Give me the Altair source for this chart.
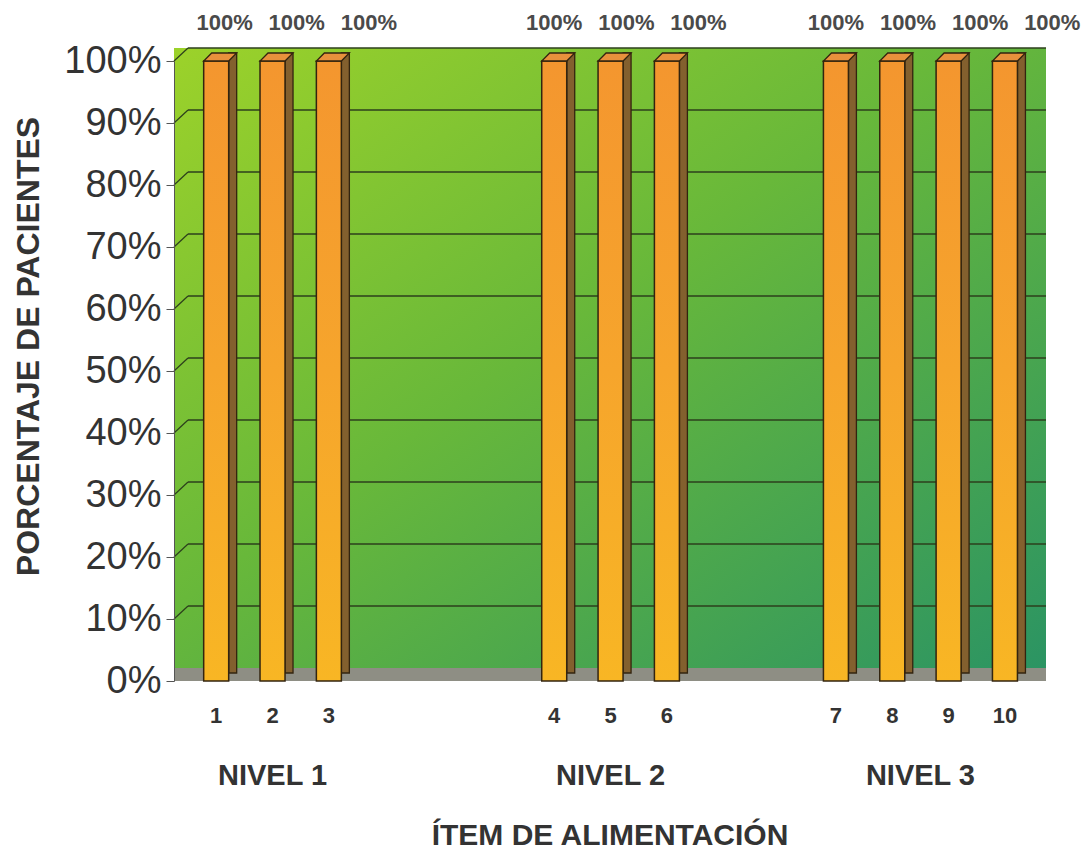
import altair as alt
import pandas as pd

# ---- data ----
items = [1, 2, 3, 4, 5, 6, 7, 8, 9, 10]
niveles = ["NIVEL 1", "NIVEL 1", "NIVEL 1",
           "NIVEL 2", "NIVEL 2", "NIVEL 2",
           "NIVEL 3", "NIVEL 3", "NIVEL 3", "NIVEL 3"]
porcentajes = [1.0, 1.0, 1.0, 1.0, 1.0, 1.0, 1.0, 1.0, 1.0, 1.0]
y_ticks = [0.0, 0.1, 0.2, 0.3, 0.4, 0.5, 0.6, 0.7, 0.8, 0.9, 1.0]
x_title = "ÍTEM DE ALIMENTACIÓN"
y_title = "PORCENTAJE DE PACIENTES"

df = pd.DataFrame({"item": items, "nivel": niveles, "pct": porcentajes})
grid_df = pd.DataFrame({"pct": y_ticks[1:]})

W, H = 872, 620
FONT = "Liberation Sans"
DEPTH = 13
OUTLINE = "#33240f"

xscale = alt.Scale(domain=[-0.66, 14.64], nice=False, zero=False)
yscale = alt.Scale(domain=[0, 1], nice=False)

ys = alt.Y(
    "pct:Q",
    scale=yscale,
    axis=alt.Axis(
        values=y_ticks, format=".0%", grid=False, zindex=1,
        labelFontSize=38, labelFont=FONT, labelColor="#333333", labelPadding=5,
        tickSize=8, tickColor="#555555", domainColor="#555555",
        title=y_title, titleFont=FONT, titleFontSize=32, titleFontWeight="bold",
        titleColor="#333333", titlePadding=18, titleY=H / 2 - 25,
    ),
)

base = (
    alt.Chart(df)
    .transform_calculate(ng="toNumber(substring(datum.nivel, 6))")
    .transform_calculate(slot="datum.item - 1 + (datum.ng == 2 ? 3 : (datum.ng == 3 ? 5 : 0))")
)
xs = alt.X("slot:Q", scale=xscale, axis=None)

one = alt.Chart(pd.DataFrame({"k": [0]}))

wall_fill = alt.Gradient(
    gradient="linear", x1=0, y1=0, x2=1, y2=1,
    stops=[
        alt.GradientStop(color="#9cd22a", offset=0),
        alt.GradientStop(color="#68b83a", offset=0.45),
        alt.GradientStop(color="#2b9463", offset=1),
    ],
)
wall = one.mark_rect(fill=wall_fill).encode(
    x=alt.value(0), x2=alt.value(W), y=alt.value(-DEPTH), y2=alt.value(H - DEPTH)
)
floor = one.mark_rect(fill="#8e8e84").encode(
    x=alt.value(0), x2=alt.value(W), y=alt.value(H - DEPTH), y2=alt.value(H)
)

grid = alt.Chart(grid_df).mark_rule(color="#2c3f1c", strokeWidth=1.3, yOffset=-DEPTH).encode(
    x=alt.value(DEPTH + 1), x2=alt.value(W), y=ys
)
diag = alt.Chart(grid_df).mark_rule(color="#2c3f1c", strokeWidth=1.2, y2Offset=-DEPTH).encode(
    x=alt.value(0), x2=alt.value(DEPTH + 1), y=ys, y2=alt.Y2("pct:Q")
)

front_fill = alt.Gradient(
    gradient="linear", x1=0, y1=0, x2=0, y2=1,
    stops=[
        alt.GradientStop(color="#f4962f", offset=0),
        alt.GradientStop(color="#f6a52c", offset=0.5),
        alt.GradientStop(color="#f8b624", offset=1),
    ],
)
side = base.mark_bar(
    size=8, xOffset=16.5, yOffset=-8, y2Offset=-4,
    fill="#83602e", stroke=OUTLINE, strokeWidth=1.3,
).encode(x=xs, y=ys)
front = base.mark_bar(size=25, fill=front_fill, stroke=OUTLINE, strokeWidth=1.5).encode(x=xs, y=ys)
cap = base.mark_point(
    shape="M -0.758 0 L 0.758 0 L 1.242 -0.485 L -0.273 -0.485 Z",
    size=1089, filled=True, fill="#e8913c", stroke=OUTLINE, strokeWidth=1.3, opacity=1,
).encode(x=xs, y=ys)

value_labels = (
    base.transform_joinaggregate(first="min(slot)", groupby=["nivel"])
    .transform_calculate(lx="datum.first + (datum.slot - datum.first) * 1.28 + (datum.first == 0 ? 0.15 : 0)")
    .mark_text(dy=-38, fontSize=22, fontWeight="bold", color="#4a4a4a", font=FONT)
    .encode(x=alt.X("lx:Q", scale=xscale, axis=None), y=ys, text=alt.Text("pct:Q", format=".0%"))
)

item_labels = base.mark_text(fontSize=22, fontWeight="bold", color="#333333", font=FONT).encode(
    x=xs, y=alt.value(H + 35), text="item:N"
)
group_labels = base.mark_text(fontSize=29, fontWeight="bold", color="#333333", font=FONT).encode(
    x=alt.X("mean(slot):Q", scale=xscale, axis=None), y=alt.value(H + 95), text="nivel:N"
)
xtitle = alt.Chart(pd.DataFrame({"t": [x_title]})).mark_text(
    fontSize=30, fontWeight="bold", color="#333333", font=FONT
).encode(x=alt.value(W / 2), y=alt.value(H + 155), text="t:N")

chart = (
    alt.layer(wall, floor, grid, diag, side, front, cap, value_labels, item_labels, group_labels, xtitle)
    .properties(width=W, height=H, padding={"top": 4, "left": 4, "right": 0, "bottom": 0},
                background="white")
    .configure_view(strokeWidth=0)
)

chart.save("out.html", embed_options={"renderer": "svg", "actions": False})
